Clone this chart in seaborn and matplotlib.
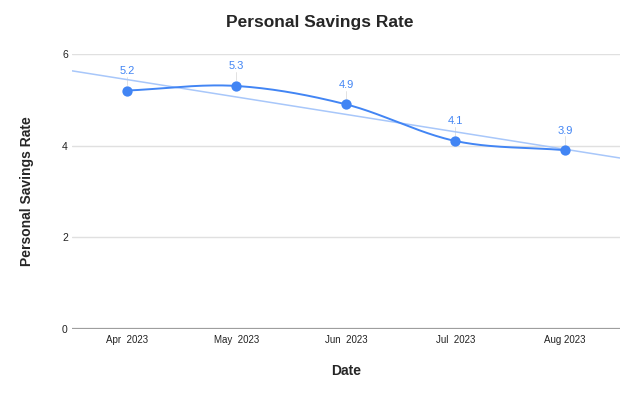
import numpy as np
import pandas as pd
import matplotlib
matplotlib.use("Agg")
import matplotlib.pyplot as plt
import seaborn as sns

months = ["Apr  2023", "May  2023", "Jun  2023", "Jul  2023", "Aug 2023"]
rates = [5.2, 5.3, 4.9, 4.1, 3.9]
yticks = [0, 2, 4, 6]

sns.set_theme(style="white")
plt.rcParams['font.family'] = ['Liberation Sans', 'DejaVu Sans']

BLUE = "#4285F4"
TREND = "#A8C7FA"

x = np.arange(len(rates), dtype=float)
y = np.array(rates, dtype=float)

# Catmull-Rom style cubic Hermite smoothing
m = np.zeros_like(y)
m[1:-1] = (y[2:] - y[:-2]) / 2.0
m[0] = y[1] - y[0]
m[-1] = y[-1] - y[-2]
xs, ys = [], []
for i in range(len(x) - 1):
    t = np.linspace(0, 1, 40)
    h00 = 2*t**3 - 3*t**2 + 1
    h10 = t**3 - 2*t**2 + t
    h01 = -2*t**3 + 3*t**2
    h11 = t**3 - t**2
    xs.append(x[i] + t)
    ys.append(h00*y[i] + h10*m[i] + h01*y[i+1] + h11*m[i+1])
smooth = pd.DataFrame({"x": np.concatenate(xs), "y": np.concatenate(ys)})

coef = np.polyfit(x, y, 1)
tx = np.array([-0.5, len(x) - 0.5])
trend = pd.DataFrame({"x": tx, "y": np.polyval(coef, tx)})

fig = plt.figure(figsize=(6.4, 3.96), dpi=100)
ax = fig.add_axes([0.1125, 0.169, 0.856, 0.695])

for yt in yticks[1:]:
    ax.axhline(yt, color="#e0e0e0", lw=1, zorder=0)
ax.axhline(0, color="#9e9e9e", lw=1.6, zorder=1)

sns.lineplot(data=trend, x="x", y="y", ax=ax, color=TREND, lw=1.1, zorder=2)
sns.lineplot(data=smooth, x="x", y="y", ax=ax, color=BLUE, lw=1.4, zorder=3, sort=False)
sns.scatterplot(x=x, y=y, ax=ax, color=BLUE, s=55, edgecolor=BLUE, linewidth=0, zorder=4)

for xi, yi in zip(x, y):
    ax.plot([xi, xi], [yi + 0.12, yi + 0.3], color="#dddddd", lw=0.6, zorder=1)
    ax.text(xi, yi + 0.32, f"{yi:.1f}", ha="center", va="bottom", color=BLUE, fontsize=8)

ax.set_xlim(-0.5, len(x) - 0.5)
ax.set_ylim(0, 6)
ax.set_xticks(x)
ax.set_xticklabels(months, fontsize=7, color="#222222")
ax.set_yticks(yticks)
ax.set_yticklabels([str(v) for v in yticks], fontsize=7.5, color="#222222")
ax.tick_params(axis="both", length=0, pad=4)
ax.tick_params(axis="y", pad=3)
for s in ax.spines.values():
    s.set_visible(False)

ax.set_xlabel("Date", fontsize=10, fontweight="bold", labelpad=14)
ax.set_ylabel("Personal Savings Rate", fontsize=10, fontweight="bold", labelpad=20)
fig.text(0.5, 0.942, "Personal Savings Rate", ha="center", va="center",
         fontsize=12.5, fontweight="bold")

fig.savefig("out.png", dpi=100, facecolor="white")
